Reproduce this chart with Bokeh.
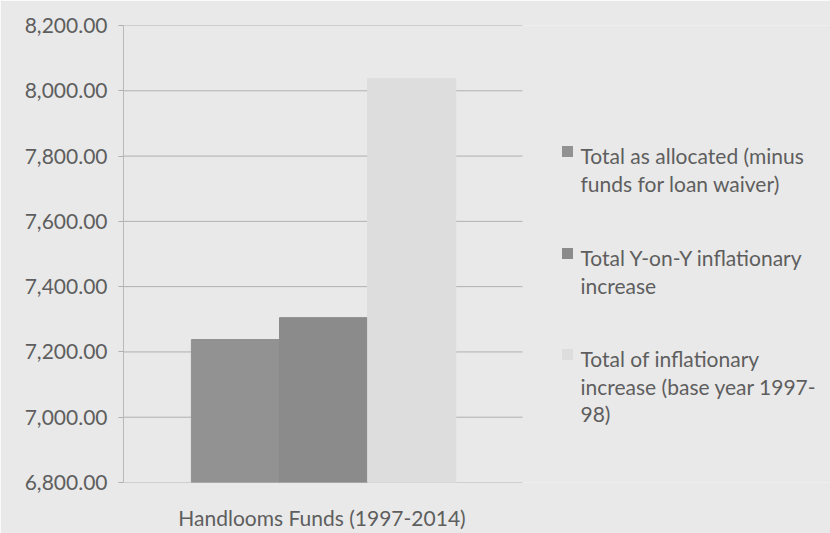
from bokeh.plotting import figure
from bokeh.models import Range1d, FixedTicker, NumeralTickFormatter, ColumnDataSource
from bokeh.core.properties import value
from bokeh.embed import file_html
from bokeh.resources import INLINE

category = "Handlooms Funds (1997-2014)"
series = [
    "Total as allocated (minus\nfunds for loan waiver)",
    "Total Y-on-Y inflationary\nincrease",
    "Total of inflationary\nincrease (base year 1997-\n98)",
]
values = [7238, 7305, 8037]
colors = ["#929292", "#8b8b8b", "#dddddd"]
yticks = [6800, 7000, 7200, 7400, 7600, 7800, 8000, 8200]

FONT = "Lato"
BG = "#e9e9e9"
TXT = "#5e5e5e"
GRID = "#b0b0b0"

W, H = 830, 533
L, T, B = 123, 25, 51
frame_w, frame_h = W - L, H - T - B
plot_w = 397                      # width of the plotted category area in px
ymin, ymax = yticks[0], yticks[-1]

p = figure(width=W, height=H, output_backend="svg", toolbar_location=None,
           x_range=Range1d(0, frame_w / plot_w), y_range=Range1d(ymin, ymax),
           min_border_left=L, min_border_right=0, min_border_top=T, min_border_bottom=B)
p.background_fill_color = BG
p.border_fill_color = BG
p.outline_line_color = None

# horizontal gridlines limited to the category area
p.segment(x0=[0] * len(yticks), x1=[1.005] * len(yticks), y0=yticks, y1=yticks,
          line_color=GRID, line_width=1)

bw = 0.222
xs = [0.504 + (i - 1) * bw for i in range(len(values))]
src = ColumnDataSource(dict(x=xs, top=values, color=colors))
p.vbar(x="x", top="top", bottom=ymin, width=bw, color="color", source=src)

# legend, drawn to the right of the category area
def dx(px):
    return (px - L) / plot_w
def dy(py):
    return ymax - (py - T) / frame_h * (ymax - ymin)

item_first = [155, 257, 358]
line_gap = 27.5
mx, my, tx, ty, tt = [], [], [], [], []
for lab, y0 in zip(series, item_first):
    mx.append(dx(567))
    my.append(dy(y0 - 4))
    for j, line in enumerate(lab.split("\n")):
        tx.append(dx(580))
        ty.append(dy(y0 + j * line_gap))
        tt.append(line)
p.scatter(x=mx, y=my, marker="square", size=11, color=colors, line_color=None)
p.text(x=tx, y=ty, text=tt, text_font=value(FONT), text_font_size=value("21px"),
       text_color=TXT, text_baseline="middle", text_align="left")

p.xgrid.visible = False
p.ygrid.visible = False

p.yaxis.ticker = FixedTicker(ticks=yticks)
p.yaxis.formatter = NumeralTickFormatter(format="0,0.00")
p.yaxis.axis_line_color = "#b8b8b8"
p.yaxis.major_tick_line_color = GRID
p.yaxis.major_tick_out = 5
p.yaxis.major_tick_in = 0
p.yaxis.minor_tick_line_color = None
p.yaxis.major_label_standoff = 11
p.yaxis.major_label_text_font = FONT
p.yaxis.major_label_text_font_size = "21px"
p.yaxis.major_label_text_color = TXT

p.xaxis.ticker = FixedTicker(ticks=[0.5])
p.xaxis.major_label_overrides = {0.5: category}
p.xaxis.axis_line_color = None
p.xaxis.major_tick_line_color = None
p.xaxis.minor_tick_line_color = None
p.xaxis.major_label_standoff = 16
p.xaxis.major_label_text_font = FONT
p.xaxis.major_label_text_font_size = "21px"
p.xaxis.major_label_text_color = TXT

open("out.html", "w").write(file_html(p, INLINE))
